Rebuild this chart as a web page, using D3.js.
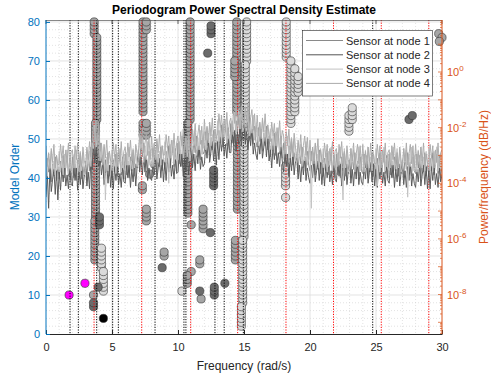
<!DOCTYPE html>
<html>
<head>
<meta charset="utf-8">
<script src="https://cdn.jsdelivr.net/npm/d3@7"></script>
<style>
  body { margin: 0; background: #fff; }
  svg { display: block; font-family: "Liberation Sans", Arial, sans-serif; }
</style>
</head>
<body>
<svg id="chart" width="491" height="378"></svg>
<script>
// ---- Spectra: log10 of PSD per sensor, sampled every 0.1 rad/s from 0 to 30 ----
const freqStep = 0.1;
const node1Log10 = [
  -3.8,-3.1,-3.6,-3.15,-3.95,-3.3,-3.75,-3.05,-3.9,-3.4,
  -3.85,-3.2,-3.65,-3.0,-3.8,-3.4,-3.05,-3.75,-3.1,-3.9,
  -3.05,-3.8,-3.3,-3.9,-3.15,-3.65,-3.0,-3.85,-3.4,-3.75,
  -3.2,-3.85,-3.05,-3.55,-2.7,-3.25,-2.6,-2.95,-2.2,-2.75,
  -3.0,-2.55,-3.25,-3.0,-3.8,-3.15,-3.6,-2.9,-3.75,-3.25,
  -3.8,-3.15,-3.6,-2.95,-3.75,-3.35,-3.0,-3.7,-3.05,-3.85,
  -2.95,-3.7,-3.2,-3.8,-3.05,-3.55,-2.9,-3.75,-3.3,-3.45,
  -2.8,-3.35,-2.5,-3.05,-2.55,-3.35,-3.0,-3.55,-2.85,-3.35,
  -3.45,-2.75,-3.25,-2.8,-3.6,-2.95,-3.4,-2.7,-3.55,-3.05,
  -3.5,-2.85,-3.3,-2.65,-3.45,-3.05,-2.7,-3.4,-2.75,-3.55,
  -2.55,-3.3,-2.8,-3.4,-2.65,-3.15,-2.5,-3.35,-2.9,-3.25,
  -2.55,-3.2,-2.4,-2.9,-2.3,-3.05,-2.65,-3.15,-2.45,-2.95,
  -2.85,-2.15,-2.65,-2.2,-3.0,-2.35,-2.8,-2.1,-2.95,-2.45,
  -2.75,-2.1,-2.55,-1.9,-2.7,-2.3,-1.95,-2.65,-2.0,-2.8,
  -1.85,-2.55,-2.0,-2.55,-1.75,-2.2,-1.55,-2.35,-1.85,-2.2,
  -1.7,-2.35,-1.6,-2.15,-1.6,-2.4,-2.05,-2.6,-1.95,-2.5,
  -2.7,-2.0,-2.5,-2.05,-2.85,-2.2,-2.65,-1.95,-2.8,-2.3,
  -3.05,-2.4,-2.85,-2.2,-3.0,-2.6,-2.25,-2.95,-2.3,-3.1,
  -2.55,-3.3,-2.8,-3.4,-2.65,-3.15,-2.5,-3.35,-2.9,-3.25,
  -2.95,-3.6,-2.8,-3.3,-2.7,-3.45,-3.05,-3.55,-2.85,-3.35,
  -3.55,-2.85,-3.35,-2.9,-3.7,-3.05,-3.5,-2.8,-3.65,-3.15,
  -3.75,-3.1,-3.55,-2.9,-3.7,-3.3,-2.95,-3.65,-3.0,-3.8,
  -2.95,-3.7,-3.2,-3.8,-3.05,-3.55,-2.9,-3.75,-3.3,-3.65,
  -3.15,-3.8,-3.0,-3.5,-2.9,-3.65,-3.25,-3.75,-3.05,-3.55,
  -3.65,-2.95,-3.45,-3.0,-3.8,-3.15,-3.6,-2.9,-3.75,-3.25,
  -3.75,-3.1,-3.55,-2.9,-3.7,-3.3,-2.95,-3.65,-3.0,-3.8,
  -2.95,-3.7,-3.2,-3.8,-3.05,-3.55,-2.9,-3.75,-3.3,-3.65,
  -3.15,-3.8,-3.0,-3.5,-2.9,-3.65,-3.25,-3.75,-3.05,-3.55,
  -3.65,-2.95,-3.45,-3.0,-3.8,-3.15,-3.6,-2.9,-3.75,-3.25,
  -3.75,-3.1,-3.55,-2.9,-3.7,-3.3,-2.95,-3.65,-3.0,-3.8,
  -3.4
];
const node2Log10 = [
  -4.5,-3.65,-4.9,-3.45,-4.3,-3.85,-3.5,-4.4,-3.55,-4.6,
  -3.6,-4.25,-3.45,-3.95,-3.35,-4.1,-3.7,-4.2,-3.5,-4.0,
  -4.1,-3.4,-3.9,-3.45,-4.25,-3.6,-4.05,-3.35,-4.2,-3.7,
  -3.35,-4.1,-3.6,-4.2,-3.2,-3.5,-2.55,-3.25,-2.75,-3.15,
  -3.4,-3.05,-3.7,-3.25,-4.05,-3.65,-3.3,-4.0,-3.35,-4.15,
  -3.55,-4.2,-3.4,-3.9,-3.3,-4.05,-3.65,-4.15,-3.45,-3.95,
  -4.0,-3.3,-3.8,-3.35,-4.15,-3.5,-3.95,-3.25,-4.1,-3.4,
  -2.95,-3.6,-3.05,-3.7,-3.05,-3.6,-3.0,-3.9,-3.45,-3.8,
  -3.9,-3.25,-3.7,-3.05,-3.85,-3.45,-3.1,-3.8,-3.15,-3.95,
  -3.25,-3.9,-3.1,-3.6,-3.0,-3.75,-3.35,-3.85,-3.15,-3.65,
  -3.6,-2.9,-3.4,-2.95,-3.75,-3.1,-3.55,-2.85,-3.7,-3.2,
  -2.7,-3.45,-2.95,-3.55,-2.8,-3.3,-2.65,-3.5,-3.05,-3.4,
  -3.3,-2.65,-3.1,-2.45,-3.25,-2.85,-2.5,-3.2,-2.55,-3.35,
  -2.5,-3.15,-2.35,-2.85,-2.25,-3.0,-2.6,-3.1,-2.4,-2.9,
  -2.9,-2.15,-2.6,-2.1,-2.85,-2.15,-2.6,-1.85,-2.65,-2.15,
  -1.85,-2.6,-2.15,-2.8,-2.1,-2.65,-2.05,-2.95,-2.55,-2.95,
  -3.15,-2.5,-2.95,-2.3,-3.1,-2.7,-2.35,-3.05,-2.4,-3.2,
  -2.8,-3.45,-2.65,-3.15,-2.55,-3.3,-2.9,-3.4,-2.7,-3.2,
  -3.6,-2.9,-3.4,-2.95,-3.75,-3.1,-3.55,-2.85,-3.7,-3.2,
  -3.1,-3.85,-3.35,-3.95,-3.2,-3.7,-3.05,-3.9,-3.45,-3.8,
  -4.0,-3.35,-3.8,-3.15,-3.95,-3.55,-3.2,-3.9,-3.25,-4.05,
  -3.45,-4.1,-3.3,-3.8,-3.2,-3.95,-3.55,-4.05,-3.35,-3.85,
  -3.95,-3.25,-3.75,-3.3,-4.1,-3.45,-3.9,-3.2,-4.05,-3.55,
  -3.25,-4.0,-3.5,-4.1,-3.35,-3.85,-3.2,-4.05,-3.6,-3.95,
  -4.05,-3.4,-3.85,-3.2,-4.0,-3.6,-3.25,-3.95,-3.3,-4.1,
  -3.5,-4.15,-3.35,-3.85,-3.25,-4.0,-3.6,-4.1,-3.4,-3.9,
  -4.0,-3.3,-3.8,-3.35,-4.15,-3.5,-3.95,-3.25,-4.1,-3.6,
  -3.3,-4.05,-3.55,-4.15,-3.4,-3.9,-3.25,-4.1,-3.65,-4.0,
  -4.15,-3.5,-3.95,-3.3,-4.1,-3.7,-3.35,-4.05,-3.4,-4.2,
  -3.55,-4.2,-3.4,-3.9,-3.3,-4.05,-3.65,-4.15,-3.45,-3.95,
  -3.7
];
const node3Log10 = [
  -3.1,-3.75,-2.95,-3.45,-2.85,-3.6,-3.2,-3.7,-3.0,-3.5,
  -2.85,-3.6,-3.1,-3.7,-2.95,-3.45,-2.8,-3.65,-3.2,-3.55,
  -3.65,-3.0,-3.45,-2.8,-3.6,-3.2,-2.85,-3.55,-2.9,-3.7,
  -3.5,-2.8,-3.3,-2.85,-3.4,-2.55,-2.75,-1.9,-2.7,-2.25,
  -2.3,-3.2,-2.6,-3.3,-2.7,-4.6,-3.05,-3.55,-2.85,-3.35,
  -2.8,-3.55,-3.05,-3.65,-2.9,-3.4,-2.75,-3.6,-3.15,-3.5,
  -3.55,-2.9,-3.35,-2.7,-3.5,-3.1,-2.75,-3.45,-2.8,-3.4,
  -3.1,-2.3,-2.75,-2.35,-3.25,-2.65,-3.15,-2.5,-3.35,-2.85,
  -2.75,-3.4,-2.6,-3.1,-2.5,-3.25,-2.85,-3.35,-2.65,-3.15,
  -2.5,-3.25,-2.75,-4.0,-2.6,-3.1,-2.45,-3.3,-2.85,-3.2,
  -3.15,-2.5,-2.95,-2.3,-3.1,-2.7,-2.35,-3.05,-2.4,-3.2,
  -2.85,-2.15,-2.65,-2.2,-3.0,-2.35,-2.8,-2.1,-2.95,-2.45,
  -2.15,-2.8,-2.0,-2.5,-1.9,-2.65,-2.25,-2.75,-2.05,-2.55,
  -1.75,-2.5,-2.0,-2.6,-1.85,-2.35,-1.7,-2.55,-2.1,-2.45,
  -2.45,-1.75,-2.15,-1.45,-2.2,-1.75,-1.4,-2.05,-1.35,-2.15,
  -2.0,-1.3,-1.85,-1.45,-2.3,-1.7,-2.2,-1.55,-2.45,-2.0,
  -2.0,-2.65,-1.85,-2.35,-1.75,-2.5,-2.1,-2.6,-1.9,-2.4,
  -2.05,-2.8,-2.3,-2.9,-2.15,-2.65,-2.0,-2.85,-2.4,-2.75,
  -3.15,-2.5,-2.95,-2.3,-3.1,-2.7,-2.35,-3.05,-2.4,-3.2,
  -3.25,-2.55,-3.05,-2.6,-3.4,-2.75,-3.2,-2.5,-3.35,-2.85,
  -2.85,-4.9,-2.7,-3.2,-2.6,-3.35,-2.95,-3.45,-2.75,-3.25,
  -2.75,-3.5,-3.0,-3.6,-2.85,-3.35,-2.7,-3.55,-3.1,-3.45,
  -3.55,-2.9,-3.35,-2.7,-3.5,-4.6,-2.75,-3.45,-2.8,-3.6,
  -3.45,-2.75,-3.25,-2.8,-3.6,-2.95,-3.4,-2.7,-3.55,-3.05,
  -2.95,-3.6,-2.8,-3.3,-2.7,-3.45,-3.05,-3.55,-2.85,-3.35,
  -2.75,-4.1,-3.0,-3.6,-2.85,-3.35,-2.7,-3.55,-3.1,-3.45,
  -3.55,-2.9,-3.35,-2.7,-3.5,-3.1,-2.75,-3.45,-2.8,-3.6,
  -3.45,-2.75,-3.25,-2.8,-4.5,-2.95,-3.4,-2.7,-3.55,-3.05,
  -2.95,-3.6,-2.8,-3.3,-2.7,-3.45,-3.05,-3.55,-2.85,-3.35,
  -2.75,-3.5,-3.0,-3.6,-2.85,-3.35,-2.7,-3.55,-3.1,-3.45,
  -3.2
];
const node4Log10 = [
  -2.65,-3.4,-2.9,-3.5,-2.75,-3.25,-2.6,-3.45,-3.0,-3.35,
  -3.3,-2.6,-3.1,-2.65,-3.45,-2.8,-3.25,-2.55,-3.4,-2.9,
  -2.8,-3.45,-2.65,-3.15,-2.55,-3.3,-2.9,-3.4,-2.7,-3.2,
  -3.35,-2.7,-3.15,-2.5,-3.05,-2.45,-1.9,-2.45,-1.75,-2.6,
  -1.9,-2.85,-2.55,-3.35,-2.6,-3.1,-2.45,-3.3,-2.85,-3.2,
  -3.25,-2.55,-3.05,-2.6,-3.4,-2.75,-3.2,-2.5,-3.35,-2.85,
  -2.7,-3.35,-2.55,-3.05,-2.45,-3.2,-2.8,-3.3,-2.6,-2.9,
  -2.95,-2.2,-2.6,-2.0,-2.9,-2.55,-2.25,-3.0,-2.35,-3.15,
  -2.3,-3.05,-2.55,-3.15,-2.4,-2.9,-2.25,-3.1,-2.65,-3.0,
  -2.95,-2.25,-2.75,-2.3,-3.1,-2.45,-2.9,-2.2,-3.05,-2.55,
  -2.3,-2.95,-2.15,-2.65,-2.05,-2.8,-2.4,-2.9,-2.2,-2.7,
  -2.7,-2.05,-2.5,-1.85,-2.65,-2.25,-1.9,-2.6,-1.95,-2.75,
  -1.7,-2.45,-1.95,-2.55,-1.8,-2.3,-1.65,-2.5,-2.05,-2.4,
  -2.2,-1.5,-2.0,-1.55,-2.35,-1.7,-2.15,-1.45,-2.3,-1.8,
  -1.65,-2.25,-1.4,-1.85,-1.2,-1.9,-1.5,-1.95,-1.2,-1.7,
  -1.9,-1.25,-1.75,-1.15,-2.0,-1.65,-1.35,-2.1,-1.5,-2.35,
  -1.55,-2.3,-1.8,-2.4,-1.65,-2.15,-1.5,-2.35,-1.9,-2.25,
  -2.5,-1.8,-2.3,-1.85,-2.65,-2.0,-2.45,-1.75,-2.6,-2.1,
  -2.3,-2.95,-2.15,-2.65,-2.05,-2.8,-2.4,-2.9,-2.2,-2.7,
  -3.1,-2.45,-2.9,-2.25,-3.05,-2.65,-2.3,-3.0,-2.35,-3.15,
  -2.45,-3.2,-2.7,-3.3,-2.55,-3.05,-2.4,-3.25,-2.8,-3.15,
  -3.25,-2.55,-3.05,-2.6,-3.4,-2.75,-3.2,-2.5,-3.35,-2.85,
  -2.75,-3.4,-2.6,-3.1,-2.5,-3.25,-2.85,-3.35,-2.65,-3.15,
  -3.4,-2.75,-3.2,-2.55,-3.35,-2.95,-2.6,-3.3,-2.65,-3.45,
  -2.6,-3.35,-2.85,-3.45,-2.7,-3.2,-2.55,-3.4,-2.95,-3.3,
  -3.3,-2.6,-3.1,-2.65,-3.45,-2.8,-3.25,-2.55,-3.4,-2.9,
  -2.8,-3.45,-2.65,-3.15,-2.55,-3.3,-2.9,-3.4,-2.7,-3.2,
  -3.4,-2.75,-3.2,-2.55,-3.35,-2.95,-2.6,-3.3,-2.65,-3.45,
  -2.6,-3.35,-2.85,-3.45,-2.7,-3.2,-2.55,-3.4,-2.95,-3.3,
  -3.3,-2.6,-3.1,-2.65,-3.45,-2.8,-3.25,-2.55,-3.4,-2.9,
  -2.8
];
const seriesNames = ["Sensor at node 1", "Sensor at node 2", "Sensor at node 3", "Sensor at node 4"];
const seriesColors = ["#8a8a8a", "#555555", "#c2c2c2", "#ababab"];

// ---- Stabilization diagram: [frequency, first model order, last model order] ----
const lightRuns = [
  [15.2, 70, 80], [15.1, 50, 69], [15.0, 25, 49], [14.9, 8, 24], [14.8, 2, 7],
  [4.2, 17, 22], [4.35, 11, 16],
  [18.2, 71, 80], [18.55, 54, 70], [18.85, 57, 68], [19.1, 62, 66],
  [18.15, 38, 43], [18.15, 35, 35],
  [22.95, 52, 56], [23.2, 55, 58],
  [10.3, 11, 11]
];
const midRuns = [
  [3.65, 77, 80], [3.85, 55, 76], [3.75, 30, 54], [3.7, 19, 29], [3.6, 10, 10],
  [7.35, 57, 80], [7.6, 78, 80], [7.35, 51, 54], [7.6, 51, 54],
  [7.85, 41, 41], [7.3, 37, 38], [7.6, 29, 32], [8.95, 20, 21],
  [10.92, 55, 80], [10.75, 31, 54], [11.0, 28, 28], [11.9, 27, 32],
  [11.65, 18, 19], [11.0, 16, 16], [10.7, 13, 15], [11.75, 9, 9],
  [14.45, 57, 80], [14.3, 66, 70], [14.5, 32, 50], [14.35, 19, 24],
  [29.75, 77, 77], [30.0, 76, 76], [29.8, 75, 75]
];
const darkRuns = [
  [12.5, 77, 79], [12.25, 72, 72], [12.7, 38, 42], [12.45, 26, 26],
  [11.65, 11, 11], [12.75, 10, 12], [13.55, 13, 13], [8.8, 17, 17],
  [4.05, 28, 30], [3.95, 12, 12], [3.6, 7, 8],
  [27.5, 55, 55], [27.75, 56, 56]
];
const magentaRuns = [[1.75, 10, 10], [2.95, 13, 13]];
const blackRuns = [[4.35, 4, 4]];

// ---- Reference frequencies (rad/s) ----
const redLineFreqs = [3.64, 7.25, 10.96, 14.52, 18.18, 21.78, 25.4, 29.0];
const blackLineFreqs = [1.82, 2.45, 3.84, 5.05, 5.48, 8.26, 10.45, 10.6, 12.8, 13.5, 14.95, 24.75];

// ---- Ticks ----
const xTicks = [0, 5, 10, 15, 20, 25, 30];
const orderTicks = [0, 10, 20, 30, 40, 50, 60, 70, 80];
const powerTickExps = [-8, -6, -4, -2, 0];

const blue = "#0072BD", orange = "#D95319", axisGray = "#262626";
const svg = d3.select("#chart");
const L = 46, R = 442, T = 20, B = 334;

const x = d3.scaleLinear().domain([0, 30]).range([L, R]);
const yOrder = d3.scaleLinear().domain([0, 80.5]).range([B, T]);
const yPow = d3.scaleLog().domain([Math.pow(10, -9.42), Math.pow(10, 1.87)]).range([B, T]);

svg.append("rect").attr("x", L).attr("y", T).attr("width", R - L).attr("height", B - T).attr("fill", "#fff");

// grid
const grid = svg.append("g");
d3.range(1, 30).filter(v => v % 5 !== 0).forEach(v => {
  grid.append("line").attr("x1", x(v)).attr("x2", x(v)).attr("y1", T).attr("y2", B)
    .attr("stroke", "#cfcfcf").attr("stroke-width", 0.6).attr("stroke-dasharray", "1,2");
});
d3.range(2, 81, 2).filter(v => v % 10 !== 0).forEach(v => {
  grid.append("line").attr("x1", L).attr("x2", R).attr("y1", yOrder(v)).attr("y2", yOrder(v))
    .attr("stroke", "#cfcfcf").attr("stroke-width", 0.6).attr("stroke-dasharray", "1,2");
});
xTicks.slice(1, -1).forEach(v => {
  grid.append("line").attr("x1", x(v)).attr("x2", x(v)).attr("y1", T).attr("y2", B)
    .attr("stroke", "#dcdcdc").attr("stroke-width", 0.8);
});
orderTicks.slice(1).forEach(v => {
  grid.append("line").attr("x1", L).attr("x2", R).attr("y1", yOrder(v)).attr("y2", yOrder(v))
    .attr("stroke", "#dcdcdc").attr("stroke-width", 0.8);
});

// stabilization circles
function expand(runs) {
  const pts = [];
  runs.forEach(([f, a, b]) => { for (let o = a; o <= b; o++) pts.push({ f, o }); });
  return pts;
}
const circleGroups = [
  { runs: midRuns, fill: "#a6a6a6" },
  { runs: lightRuns, fill: "#dadada" },
  { runs: darkRuns, fill: "#6b6b6b" },
  { runs: magentaRuns, fill: "#ff00ff" },
  { runs: blackRuns, fill: "#000000" }
];
const cg = svg.append("g");
circleGroups.forEach(g => {
  cg.append("g").selectAll("circle").data(expand(g.runs)).join("circle")
    .attr("cx", d => x(d.f)).attr("cy", d => yOrder(d.o)).attr("r", 4.1)
    .attr("fill", g.fill).attr("stroke", "#303030").attr("stroke-width", 0.6);
});

// reference frequency lines
const vl = svg.append("g");
blackLineFreqs.forEach(f => {
  vl.append("line").attr("x1", x(f)).attr("x2", x(f)).attr("y1", T).attr("y2", B)
    .attr("stroke", "#000").attr("stroke-width", 1).attr("stroke-dasharray", "1.2,1.4");
});
redLineFreqs.forEach(f => {
  vl.append("line").attr("x1", x(f)).attr("x2", x(f)).attr("y1", T).attr("y2", B)
    .attr("stroke", "#ff0000").attr("stroke-width", 1).attr("stroke-dasharray", "1.2,1.4");
});

// spectra
svg.append("clipPath").attr("id", "plotClip").append("rect")
  .attr("x", L).attr("y", T).attr("width", R - L).attr("height", B - T);
const line = d3.line().x((d, i) => x(i * freqStep)).y(d => yPow(Math.pow(10, d)));
const spectra = [node1Log10, node2Log10, node3Log10, node4Log10];
const sg = svg.append("g").attr("clip-path", "url(#plotClip)");
spectra.forEach((s, k) => {
  sg.append("path").datum(s).attr("d", line).attr("fill", "none")
    .attr("stroke", seriesColors[k]).attr("stroke-width", 0.95).attr("stroke-linejoin", "round");
});

// axes
const xAxis = svg.append("g").attr("transform", `translate(0,${B})`)
  .call(d3.axisBottom(x).tickValues(xTicks).tickSize(-4).tickSizeOuter(0).tickPadding(9));
xAxis.selectAll("path,line").attr("stroke", axisGray);
xAxis.selectAll("text").attr("fill", axisGray).attr("font-size", 11);

svg.append("line").attr("x1", L).attr("x2", R).attr("y1", T + 0.5).attr("y2", T + 0.5)
  .attr("stroke", "#555").attr("stroke-width", 0.7);
xTicks.forEach(v => svg.append("line").attr("x1", x(v)).attr("x2", x(v)).attr("y1", T).attr("y2", T + 4)
  .attr("stroke", axisGray).attr("stroke-width", 0.7));

const yAxisL = svg.append("g").attr("transform", `translate(${L},0)`)
  .call(d3.axisLeft(yOrder).tickValues(orderTicks).tickSize(-4).tickSizeOuter(0).tickPadding(6));
yAxisL.selectAll("path,line").attr("stroke", blue);
yAxisL.selectAll("text").attr("fill", blue).attr("font-size", 11);
yAxisL.select("path").attr("d", `M0,${T}V${B}`);

// right log axis
const ra = svg.append("g");
ra.append("line").attr("x1", R).attr("x2", R).attr("y1", T).attr("y2", B).attr("stroke", orange).attr("stroke-width", 1);
for (let e = -10; e <= 1; e++) {
  for (let m = 1; m <= 9; m++) {
    const v = m * Math.pow(10, e);
    const yy = yPow(v);
    if (yy < T || yy > B) continue;
    const len = m === 1 ? 4 : 2;
    ra.append("line").attr("x1", R - len).attr("x2", R).attr("y1", yy).attr("y2", yy)
      .attr("stroke", orange).attr("stroke-width", 0.7);
  }
}
powerTickExps.forEach(e => {
  const t = ra.append("text").attr("x", R + 5).attr("y", yPow(Math.pow(10, e)) + 4)
    .attr("fill", orange).attr("font-size", 11);
  t.append("tspan").text("10");
  t.append("tspan").attr("dy", -5).attr("font-size", 8).text(String(e));
});

// labels
svg.append("text").attr("x", (L + R) / 2).attr("y", 14).attr("text-anchor", "middle")
  .attr("font-size", 12).attr("font-weight", "bold").attr("fill", "#000")
  .text("Periodogram Power Spectral Density Estimate");
svg.append("text").attr("x", (L + R) / 2).attr("y", 370).attr("text-anchor", "middle")
  .attr("font-size", 12).attr("fill", axisGray).text("Frequency (rad/s)");
svg.append("text").attr("transform", `translate(19,${(T + B) / 2}) rotate(-90)`).attr("text-anchor", "middle")
  .attr("font-size", 12).attr("fill", blue).text("Model Order");
svg.append("text").attr("transform", `translate(488,${(T + B) / 2}) rotate(-90)`).attr("text-anchor", "middle")
  .attr("font-size", 12).attr("fill", orange).text("Power/frequency (dB/Hz)");

// legend
const lg = svg.append("g");
lg.append("rect").attr("x", 302.5).attr("y", 30.5).attr("width", 130).attr("height", 65.5)
  .attr("fill", "#fff").attr("stroke", axisGray).attr("stroke-width", 0.6);
seriesNames.forEach((name, k) => {
  const yy = 40.5 + k * 14.3;
  lg.append("line").attr("x1", 306).attr("x2", 343).attr("y1", yy).attr("y2", yy)
    .attr("stroke", seriesColors[k]).attr("stroke-width", 1);
  lg.append("text").attr("x", 346).attr("y", yy + 4).attr("font-size", 11).attr("fill", axisGray).text(name);
});
</script>
</body>
</html>
